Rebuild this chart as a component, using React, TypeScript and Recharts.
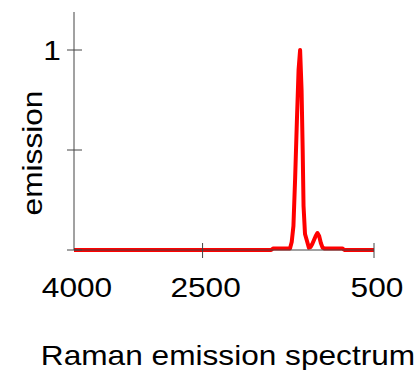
import React from 'react';
import { LineChart, Line, XAxis, YAxis, Label } from 'recharts';

// Raman shift (cm-1), high to low
const wavenumbers = [
  4000, 1700, 1675, 1480, 1460, 1440, 1420, 1400, 1380, 1362, 1345, 1332, 1322,
  1305, 1285, 1260, 1240, 1220, 1200, 1180, 1160, 1140, 1120, 1100, 1080, 870, 845, 500,
];
const emission = [
  0, 0, 0.008, 0.008, 0.04, 0.12, 0.36, 0.64, 0.9, 1.0, 0.8, 0.5, 0.22,
  0.08, 0.05, 0.012, 0.015, 0.03, 0.05, 0.07, 0.085, 0.07, 0.035, 0.012, 0.008, 0.008, 0, 0,
];
const xTicks = [4000, 2500, 500];
const yTicks = [0, 0.5, 1];

const data = wavenumbers.map((w, i) => ({ w, v: emission[i] }));

const FONT = '"Liberation Sans", Arial, sans-serif';
const AXIS = '#444';

const XTick = (props: any) => {
  const { x, y, payload } = props;
  return (
    <g>
      {payload.value !== 4000 && (
        <line x1={x} y1={y - 7} x2={x} y2={y + 8} stroke={AXIS} strokeWidth={1} />
      )}
      <text
        transform={`translate(${x + 3},${y + 47}) scale(1.13,1)`}
        textAnchor="middle"
        fontFamily={FONT}
        fontSize={28}
        fill="#000"
      >
        {payload.value}
      </text>
    </g>
  );
};

const YTick = (props: any) => {
  const { x, y, payload } = props;
  return (
    <g>
      <line x1={x - 7} y1={y} x2={x + 8} y2={y} stroke={AXIS} strokeWidth={1} />
      {payload.value === 1 && (
        <text
          transform={`translate(${x - 22},${y + 10}) scale(1.13,1)`}
          textAnchor="middle"
          fontFamily={FONT}
          fontSize={28}
          fill="#000"
        >
          1
        </text>
      )}
    </g>
  );
};

export default function App() {
  return (
    <div style={{ position: 'absolute', left: 0, top: 0, background: '#fff' }}>
      <LineChart width={418} height={370} data={data} margin={{ top: 12, right: 44, left: 0, bottom: 0 }}>
        <XAxis
          dataKey="w"
          type="number"
          domain={[500, 4000]}
          reversed
          ticks={xTicks}
          tick={<XTick />}
          tickLine={false}
          tickSize={0}
          tickMargin={0}
          height={120}
          stroke={AXIS}
          interval={0}
        >
          <Label
            content={() => (
              <text
                transform="translate(228,365) scale(1.13,1)"
                textAnchor="middle"
                fontFamily={FONT}
                fontSize={28}
                fill="#000"
              >
                Raman emission spectrum
              </text>
            )}
          />
        </XAxis>
        <YAxis
          type="number"
          domain={[0, 1.19]}
          ticks={yTicks}
          tick={<YTick />}
          tickLine={false}
          tickSize={0}
          tickMargin={0}
          width={74}
          stroke={AXIS}
          interval={0}
        >
          <Label
            content={() => (
              <text
                transform="translate(42,153) rotate(-90) scale(1.13,1)"
                textAnchor="middle"
                fontFamily={FONT}
                fontSize={28}
                fill="#000"
              >
                emission
              </text>
            )}
          />
        </YAxis>
        <Line
          dataKey="v"
          type="linear"
          stroke="#ff0000"
          strokeWidth={4}
          strokeLinejoin="round"
          dot={false}
          isAnimationActive={false}
        />
      </LineChart>
    </div>
  );
}
